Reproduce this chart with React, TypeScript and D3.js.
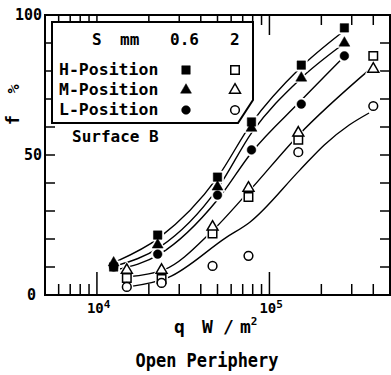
import { useEffect, useRef } from "react";
import * as d3 from "d3";

// measured points, q in W/m2, f in %
const qFilled = [1.25e4, 2.25e4, 5.0e4, 7.87e4, 1.53e5, 2.72e5];
const hFilled = [10, 21.4, 42.1, 61.8, 82.1, 95.4];
const mFilled = [11.5, 17.9, 38.6, 59.6, 77.5, 90];
const lFilled = [10, 14.6, 35.7, 51.8, 68.2, 85.4];

const qOpen = [1.49e4, 2.37e4, 4.68e4, 7.56e4, 1.47e5, 4.0e5];
const hOpen = [6.1, 5.7, 22, 35, 55.4, 85.4];
const mOpen = [8.9, 8.9, 24.3, 38.2, 57.9, 80.7];
const lOpen = [2.9, 4.3, 10.4, 14, 51, 67.5];

// fitted curves
const qCurveFilled = [1.3e4, 2.3e4, 5e4, 7.9e4, 1.5e5, 2.6e5];
const curveH = [12, 20.5, 42, 61.5, 81, 93.5];
const curveM = [10.5, 17, 38, 58, 77, 89];
const curveL = [9, 14.5, 34, 51, 69, 84];
const qCurveOpen = [1.5e4, 2.45e4, 4.6e4, 7.6e4, 1.47e5, 3.8e5];
const curveOpen = [6.5, 9, 22.5, 37, 57, 80.5];
const qCurveLow = [1.55e4, 2.6e4, 5.6e4, 7.7e4, 1.5e5, 2.08e5, 2.9e5, 3.78e5];
const curveLow = [3, 6.3, 20.5, 26, 44.6, 53.6, 60.7, 65];

const majorX = [1e4, 1e5];
const minorX = [6e3, 7e3, 8e3, 9e3, 2e4, 3e4, 4e4, 5e4, 6e4, 7e4, 8e4, 9e4, 2e5, 3e5, 4e5];
const yTicks = [0, 10, 20, 30, 40, 50, 60, 70, 80, 90, 100];
const yLabels = [0, 50, 100];

const W = 391;
const H = 375;

const App = () => {
    const svgRef = useRef<SVGSVGElement>(null);

    useEffect(() => {
        if (!svgRef.current) return;
        const svg = d3.select(svgRef.current);
        svg.selectAll("*").remove();

        const left = 45, right = 390, top = 15, bottom = 295;
        const x = d3.scaleLog().domain([5e3, 5e5]).range([left, right]);
        const y = d3.scaleLinear().domain([0, 100]).range([bottom, top]);
        const font = "'DejaVu Sans Mono', monospace";

        const g = svg.append("g");

        // ticks
        yTicks.forEach((t) => {
            g.append("line").attr("x1", left).attr("x2", left + 10)
                .attr("y1", y(t)).attr("y2", y(t)).attr("stroke", "#000").attr("stroke-width", 1.5);
            g.append("line").attr("x1", right).attr("x2", right - 10)
                .attr("y1", y(t)).attr("y2", y(t)).attr("stroke", "#000").attr("stroke-width", 1.5);
        });
        minorX.forEach((t) => {
            g.append("line").attr("x1", x(t)).attr("x2", x(t))
                .attr("y1", bottom).attr("y2", bottom - 11).attr("stroke", "#000").attr("stroke-width", 1.5);
            g.append("line").attr("x1", x(t)).attr("x2", x(t))
                .attr("y1", top).attr("y2", top + 10).attr("stroke", "#000").attr("stroke-width", 1.5);
        });
        majorX.forEach((t) => {
            g.append("line").attr("x1", x(t)).attr("x2", x(t))
                .attr("y1", bottom).attr("y2", bottom - 23).attr("stroke", "#000").attr("stroke-width", 1.5);
            g.append("line").attr("x1", x(t)).attr("x2", x(t))
                .attr("y1", top).attr("y2", top + 20).attr("stroke", "#000").attr("stroke-width", 1.5);
        });

        // frame
        g.append("rect").attr("x", left).attr("y", top)
            .attr("width", right - left).attr("height", bottom - top)
            .attr("fill", "none").attr("stroke", "#000").attr("stroke-width", 2);

        // tick labels
        yLabels.forEach((t) => {
            g.append("text").attr("x", t === 0 ? 36 : 42).attr("y", y(t) + 5)
                .attr("text-anchor", "end").attr("font-family", font)
                .attr("font-weight", "bold").attr("font-size", 15).text(t);
        });
        majorX.forEach((t) => {
            const tx = g.append("text").attr("x", x(t) - 10).attr("y", 313)
                .attr("font-family", font).attr("font-weight", "bold").attr("font-size", 14);
            tx.append("tspan").text("10");
            tx.append("tspan").attr("dy", -5).attr("font-size", 11).text(Math.round(Math.log10(t)));
        });

        // axis titles
        const xt = g.append("text").attr("x", 174).attr("y", 333)
            .attr("font-family", font).attr("font-weight", "bold").attr("font-size", 18);
        xt.append("tspan").text("q");
        xt.append("tspan").attr("x", 202).text("W");
        xt.append("tspan").attr("x", 223).text("/");
        xt.append("tspan").attr("x", 240).text("m");
        xt.append("tspan").attr("dy", -8).attr("font-size", 11).text("2");

        g.append("text").attr("x", 207).attr("y", 367).attr("text-anchor", "middle")
            .attr("font-family", font).attr("font-weight", "bold").attr("font-size", 19)
            .attr("textLength", 143).attr("lengthAdjust", "spacingAndGlyphs")
            .text("Open Periphery");

        g.append("text").attr("transform", "translate(19,120) rotate(-90)")
            .attr("text-anchor", "middle").attr("font-family", font)
            .attr("font-weight", "bold").attr("font-size", 17).text("f");
        g.append("text").attr("transform", "translate(19,89) rotate(-90)")
            .attr("text-anchor", "middle").attr("font-family", font)
            .attr("font-weight", "bold").attr("font-size", 15).text("%");

        // curves
        const line = d3.line<[number, number]>()
            .x((d) => x(d[0])).y((d) => y(d[1])).curve(d3.curveMonotoneX);
        const curves: [number[], number[]][] = [
            [qCurveFilled, curveH],
            [qCurveFilled, curveM],
            [qCurveFilled, curveL],
            [qCurveOpen, curveOpen],
            [qCurveLow, curveLow],
        ];
        curves.forEach(([qs, fs]) => {
            g.append("path")
                .datum(qs.map((q, i) => [q, fs[i]] as [number, number]))
                .attr("d", line)
                .attr("fill", "none").attr("stroke", "#000").attr("stroke-width", 1.4);
        });

        // markers
        const sq = d3.symbol().type(d3.symbolSquare).size(72);
        const tri = d3.symbol().type(d3.symbolTriangle).size(52);
        const circ = d3.symbol().type(d3.symbolCircle).size(60);
        const sets = [
            { qs: qFilled, fs: hFilled, sym: sq, filled: true },
            { qs: qFilled, fs: mFilled, sym: tri, filled: true },
            { qs: qFilled, fs: lFilled, sym: circ, filled: true },
            { qs: qOpen, fs: hOpen, sym: sq, filled: false },
            { qs: qOpen, fs: mOpen, sym: tri, filled: false },
            { qs: qOpen, fs: lOpen, sym: circ, filled: false },
        ];
        // white halos break the curves near points
        sets.forEach((s) => {
            s.qs.forEach((q, i) => {
                g.append("path").attr("d", s.sym())
                    .attr("transform", `translate(${x(q)},${y(s.fs[i])}) scale(1.5)`)
                    .attr("fill", "#fff").attr("stroke", "none");
            });
        });
        sets.forEach((s) => {
            s.qs.forEach((q, i) => {
                g.append("path").attr("d", s.sym())
                    .attr("transform", `translate(${x(q)},${y(s.fs[i])})`)
                    .attr("fill", s.filled ? "#000" : "#fff")
                    .attr("stroke", "#000").attr("stroke-width", s.filled ? 0.5 : 1.5);
            });
        });

        // legend box
        g.append("path").attr("d", "M52,22 H253 V100 L238,123 H52 Z")
            .attr("fill", "#fff").attr("stroke", "#000").attr("stroke-width", 2);
        const hdr = [
            { t: "S", x: 92 },
            { t: "mm", x: 120 },
            { t: "0.6", x: 170 },
            { t: "2", x: 230 },
        ];
        hdr.forEach((h) => {
            g.append("text").attr("x", h.x).attr("y", 45).attr("font-family", font)
                .attr("font-weight", "bold").attr("font-size", 16).text(h.t);
        });
        const rows = ["H-Position", "M-Position", "L-Position"];
        const legSyms = [sq, tri, circ];
        rows.forEach((r, i) => {
            const ry = 75 + i * 20;
            g.append("text").attr("x", 59).attr("y", ry).attr("font-family", font)
                .attr("font-weight", "bold").attr("font-size", 16.5).text(r);
            g.append("path").attr("d", legSyms[i]())
                .attr("transform", `translate(186,${ry - 5})`)
                .attr("fill", "#000").attr("stroke", "#000").attr("stroke-width", 0.5);
            g.append("path").attr("d", legSyms[i]())
                .attr("transform", `translate(235,${ry - 5})`)
                .attr("fill", "#fff").attr("stroke", "#000").attr("stroke-width", 1.5);
        });
        g.append("text").attr("x", 72).attr("y", 142).attr("font-family", font)
            .attr("font-weight", "bold").attr("font-size", 16).text("Surface B");
    }, []);

    return (
        <svg
            ref={svgRef}
            width={W}
            height={H}
            style={{ position: "absolute", left: 0, top: 0, background: "#fff" }}
        />
    );
};

export default App;
